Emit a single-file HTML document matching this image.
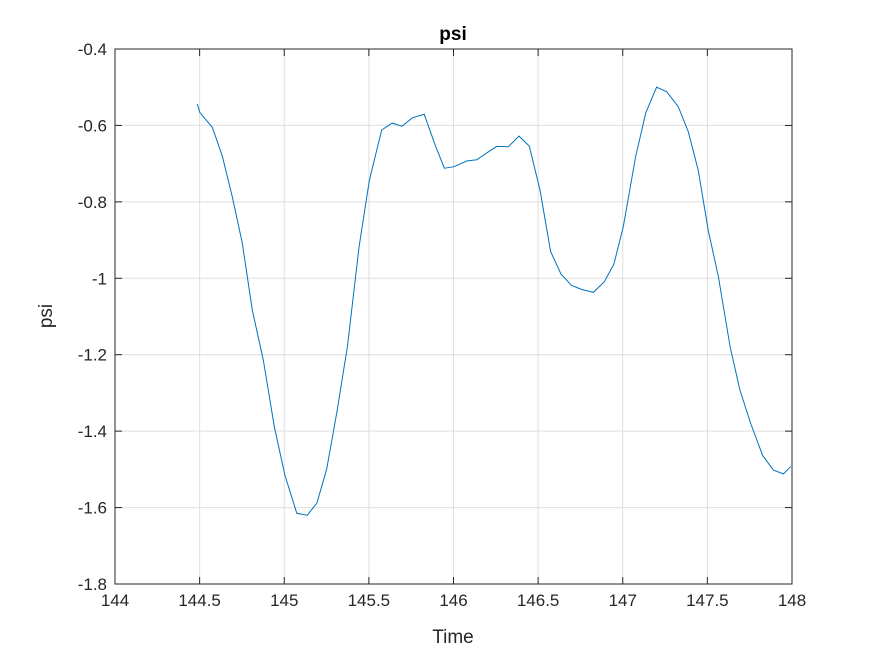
<!DOCTYPE html>
<html><head><meta charset="utf-8"><style>
body{margin:0;background:#fff}
svg{display:block;font-family:"Liberation Sans",Arial,sans-serif}
</style></head><body>
<svg id="chart" width="875" height="656">
<rect width="875" height="656" fill="#fff"/>
<g id="grid"></g>
<g id="series"></g>
<g id="axes"></g>
<text x="453" y="40" text-anchor="middle" font-size="19" font-weight="bold" fill="#000">psi</text>
<text x="453" y="643" text-anchor="middle" font-size="19" fill="#262626">Time</text>
<text transform="translate(52,316) rotate(-90)" text-anchor="middle" font-size="19" fill="#262626">psi</text>
</svg>
<script>
const times=[144.486,144.502,144.575,144.634,144.693,144.752,144.811,144.876,144.941,145.004,145.074,145.136,145.193,145.251,145.310,145.373,145.442,145.503,145.576,145.637,145.696,145.757,145.827,145.891,145.946,146.003,146.078,146.137,146.216,146.255,146.324,146.387,146.448,146.511,146.574,146.635,146.698,146.757,146.826,146.891,146.948,147.003,147.076,147.136,147.200,147.260,147.328,147.387,147.446,147.505,147.565,147.634,147.693,147.756,147.827,147.890,147.949,147.992];
const psiValues=[-0.544,-0.567,-0.605,-0.680,-0.787,-0.908,-1.083,-1.214,-1.388,-1.515,-1.615,-1.620,-1.588,-1.499,-1.353,-1.179,-0.917,-0.743,-0.612,-0.594,-0.602,-0.580,-0.571,-0.651,-0.712,-0.708,-0.693,-0.690,-0.666,-0.655,-0.656,-0.628,-0.654,-0.769,-0.930,-0.989,-1.019,-1.029,-1.037,-1.009,-0.963,-0.865,-0.682,-0.567,-0.500,-0.512,-0.551,-0.616,-0.717,-0.874,-0.996,-1.179,-1.293,-1.380,-1.464,-1.502,-1.512,-1.493];
const xTicks=[144,144.5,145,145.5,146,146.5,147,147.5,148];
const xTickLabels=["144","144.5","145","145.5","146","146.5","147","147.5","148"];
const yTicks=[-1.8,-1.6,-1.4,-1.2,-1,-0.8,-0.6,-0.4];
const yTickLabels=["-1.8","-1.6","-1.4","-1.2","-1","-0.8","-0.6","-0.4"];

const L=115,R=792,T=49,B=584,X0=144,X1=148,Y0=-1.8,Y1=-0.4;
const xs=v=>L+(v-X0)/(X1-X0)*(R-L);
const ys=v=>B-(v-Y0)/(Y1-Y0)*(B-T);
const NS="http://www.w3.org/2000/svg";
function mk(tag,attrs,parent){const e=document.createElementNS(NS,tag);for(const k in attrs)e.setAttribute(k,attrs[k]);parent.appendChild(e);return e;}
const grid=document.getElementById('grid'),axes=document.getElementById('axes'),series=document.getElementById('series');
xTicks.forEach((t,i)=>{
  const x=xs(t);
  const g=mk('line',{x1:x,x2:x,y1:T,y2:B,stroke:'#dfdfdf','stroke-width':1},grid);
  
  
  mk('line',{x1:x,x2:x,y1:B,y2:B-7,stroke:'#262626'},axes);
  mk('line',{x1:x,x2:x,y1:T,y2:T+7,stroke:'#262626'},axes);
  const lb=mk('text',{x:x,y:B+22,'text-anchor':'middle','font-size':17,fill:'#262626'},axes);
  lb.textContent=xTickLabels[i];
  
  
});
yTicks.forEach((t,i)=>{
  const y=ys(t);
  const g=mk('line',{x1:L,x2:R,y1:y,y2:y,stroke:'#dfdfdf','stroke-width':1},grid);
  
  
  mk('line',{x1:L,x2:L+7,y1:y,y2:y,stroke:'#262626'},axes);
  mk('line',{x1:R,x2:R-7,y1:y,y2:y,stroke:'#262626'},axes);
  const lb=mk('text',{x:L-8,y:y+6,'text-anchor':'end','font-size':17,fill:'#262626'},axes);
  lb.textContent=yTickLabels[i];
  
  
});
const box=mk('rect',{x:L,y:T,width:R-L,height:B-T,fill:'none',stroke:'#262626','stroke-width':1},axes);


const pts=times.map((t,i)=>xs(t).toFixed(1)+','+ys(psiValues[i]).toFixed(1)).join(' ');
const line=mk('polyline',{points:pts,fill:'none',stroke:'#0072bd','stroke-width':1},series);


</script>
</body></html>
